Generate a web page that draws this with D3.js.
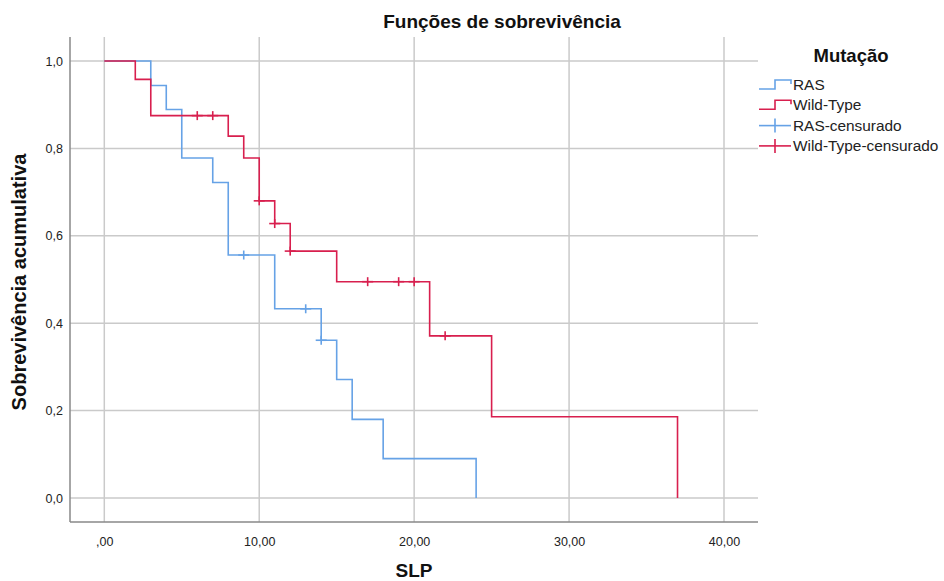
<!DOCTYPE html>
<html>
<head>
<meta charset="utf-8">
<script src="https://cdn.jsdelivr.net/npm/d3@7"></script>
<style>
  body { margin: 0; background: #fff; }
  svg { display: block; font-family: Arial, "Liberation Sans", sans-serif; }
</style>
</head>
<body>
<svg id="chart" width="944" height="581"></svg>
<script>
// --- data ---
const rasTimes = [0, 3, 4, 5, 7, 8, 11, 14, 15, 16, 18, 24];
const rasSurv  = [1, 0.944, 0.889, 0.778, 0.722, 0.556, 0.433, 0.361, 0.271, 0.180, 0.090, 0];
const rasCensorTimes = [9, 13, 14];
const rasCensorSurv  = [0.556, 0.433, 0.361];

const wtTimes = [0, 2, 3, 8, 9, 10, 11, 12, 15, 21, 25, 37];
const wtSurv  = [1, 0.958, 0.875, 0.828, 0.778, 0.680, 0.628, 0.565, 0.495, 0.371, 0.186, 0];
const wtCensorTimes = [6, 7, 10, 11, 12, 17, 19, 20, 22];
const wtCensorSurv  = [0.875, 0.875, 0.680, 0.628, 0.565, 0.495, 0.495, 0.495, 0.371];

const xTicks = [0, 10, 20, 30, 40];
const yTicks = [0, 0.2, 0.4, 0.6, 0.8, 1.0];
const legendLabels = ["RAS", "Wild-Type", "RAS-censurado", "Wild-Type-censurado"];

const BLUE = "#66a2e6", RED = "#d81f4e";

const svg = d3.select("#chart");
const plot = { left: 70, right: 758, top: 37, bottom: 522 };

const x = d3.scaleLinear().domain([0, 40]).range([104.3, 724]);
const y = d3.scaleLinear().domain([0, 1]).range([498, 61]);

// gridlines
svg.append("g").selectAll("line").data(xTicks).enter().append("line")
  .attr("x1", d => x(d)).attr("x2", d => x(d))
  .attr("y1", plot.top).attr("y2", plot.bottom)
  .attr("stroke", "#cacaca").attr("stroke-width", 1.5);
svg.append("g").selectAll("line").data(yTicks).enter().append("line")
  .attr("x1", plot.left).attr("x2", plot.right)
  .attr("y1", d => y(d)).attr("y2", d => y(d))
  .attr("stroke", "#cacaca").attr("stroke-width", 1.5);

// axes (labels only, no tick marks)
const xAxis = d3.axisBottom(x).tickValues(xTicks).tickSize(0).tickPadding(15)
  .tickFormat(d => d === 0 ? ",00" : d.toFixed(2).replace(".", ","));
const yAxis = d3.axisLeft(y).tickValues(yTicks).tickSize(0).tickPadding(7)
  .tickFormat(d => d.toFixed(1).replace(".", ","));

const gx = svg.append("g").attr("transform", `translate(0,${plot.bottom})`).call(xAxis);
const gy = svg.append("g").attr("transform", `translate(${plot.left},0)`).call(yAxis);
[gx, gy].forEach(g => {
  g.select(".domain").remove();
  g.selectAll("text").attr("font-size", 12.5).attr("fill", "#222").attr("font-family", "Arial, 'Liberation Sans', sans-serif");
});
svg.append("line").attr("x1", plot.left).attr("x2", plot.left).attr("y1", plot.top).attr("y2", plot.bottom)
  .attr("stroke", "#888").attr("stroke-width", 1.5);
svg.append("line").attr("x1", plot.left).attr("x2", plot.right).attr("y1", plot.bottom).attr("y2", plot.bottom)
  .attr("stroke", "#888").attr("stroke-width", 1.5);

// survival curves
const line = d3.line().x(d => x(d[0])).y(d => y(d[1])).curve(d3.curveStepAfter);
const series = [
  { t: rasTimes, s: rasSurv, ct: rasCensorTimes, cs: rasCensorSurv, color: BLUE },
  { t: wtTimes, s: wtSurv, ct: wtCensorTimes, cs: wtCensorSurv, color: RED }
];
series.forEach(sr => {
  svg.append("path").datum(d3.zip(sr.t, sr.s))
    .attr("d", line).attr("fill", "none")
    .attr("stroke", sr.color).attr("stroke-width", 1.6);
  const cg = svg.append("g").selectAll("g").data(d3.zip(sr.ct, sr.cs)).enter().append("g")
    .attr("transform", d => `translate(${x(d[0])},${y(d[1])})`);
  cg.append("line").attr("x1", 0).attr("x2", 0).attr("y1", -4.5).attr("y2", 4.5)
    .attr("stroke", sr.color).attr("stroke-width", 1.6);
  cg.append("line").attr("x1", -5.5).attr("x2", 5.5).attr("y1", 0).attr("y2", 0)
    .attr("stroke", sr.color).attr("stroke-width", 1.6);
});

// titles
svg.append("text").attr("x", 502).attr("y", 28).attr("text-anchor", "middle")
  .attr("font-size", 19).attr("font-weight", "bold").attr("fill", "#111").text("Funções de sobrevivência");
svg.append("text").attr("x", 414).attr("y", 577).attr("text-anchor", "middle")
  .attr("font-size", 19).attr("font-weight", "bold").attr("fill", "#111").text("SLP");
svg.append("text").attr("transform", "translate(26,282) rotate(-90)").attr("text-anchor", "middle")
  .attr("font-size", 20).attr("font-weight", "bold").attr("fill", "#111").text("Sobrevivência acumulativa");

// legend
const lg = svg.append("g");
lg.append("text").attr("x", 851).attr("y", 62).attr("text-anchor", "middle")
  .attr("font-size", 18.5).attr("font-weight", "bold").attr("fill", "#111").text("Mutação");
const legendColors = [BLUE, RED, BLUE, RED];
legendLabels.forEach((lab, i) => {
  const by = 90 + i * 20.3;
  const c = legendColors[i];
  if (i < 2) {
    lg.append("path").attr("d", `M759,${by - 1} H775 V${by - 10} H791 V${by - 6}`)
      .attr("fill", "none").attr("stroke", c).attr("stroke-width", 1.6);
  } else {
    lg.append("line").attr("x1", 759).attr("x2", 791).attr("y1", by - 5).attr("y2", by - 5)
      .attr("stroke", c).attr("stroke-width", 1.6);
    lg.append("line").attr("x1", 775).attr("x2", 775).attr("y1", by - 12).attr("y2", by + 2)
      .attr("stroke", c).attr("stroke-width", 1.6);
  }
  lg.append("text").attr("x", 793).attr("y", by).attr("font-size", 15.4).attr("fill", "#222").text(lab);
});
</script>
</body>
</html>
